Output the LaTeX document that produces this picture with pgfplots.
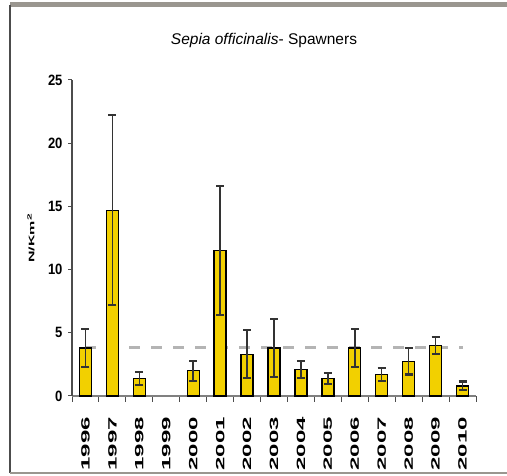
\documentclass[border=0pt]{standalone}
\usepackage{fontspec}
\setmainfont{Liberation Sans}
\usepackage{pgfplots}
\pgfplotsset{compat=1.18}
\usepackage{graphicx}

\definecolor{baryellow}{HTML}{F2D000}
\definecolor{errgray}{HTML}{333333}
\definecolor{meangray}{HTML}{B4B4B4}
\definecolor{framegray}{HTML}{9A968F}

\pgfplotstableread{
x  y     err
0  3.8   1.5
1  14.7  7.5
2  1.4   0.5
4  2.0   0.8
5  11.5  5.1
6  3.3   1.9
7  3.8   2.3
8  2.1   0.7
9  1.4   0.45
10 3.8   1.5
11 1.7   0.5
12 2.75  1.05
13 4.0   0.65
14 0.8   0.35
}\spawners

\begin{document}
\begin{tikzpicture}
\useasboundingbox (0,0) rectangle (507pt,476pt);
% frame
\draw[framegray, line width=5pt] (10pt,471pt) -- (507pt,471pt);
\draw[black!70, line width=1.5pt] (10pt,471pt) -- (10pt,3pt);
\draw[framegray, line width=2.5pt] (10pt,3pt) -- (507pt,3pt);

\node[font=\fontsize{15.5}{15.5}\selectfont] at (264pt,435pt) {\textit{Sepia officinalis}- Spawners};
\node[rotate=90, font=\fontsize{8}{8}\selectfont\bfseries] at (31pt,238pt) {\scalebox{2}[1]{N/Km\textsuperscript{2}}};

\begin{axis}[
    at={(72pt,80pt)}, anchor=south west,
    scale only axis, width=404pt, height=316pt,
    xmin=-0.5, xmax=14.5, ymin=0, ymax=25,
    axis x line=bottom, axis y line=left,
    x axis line style={-, draw=gray, line width=2pt},
    y axis line style={-, draw=black!70, line width=1.2pt},
    ytick={0,5,...,25},
    xtick={0,...,14},
    xticklabels={1996,1997,1998,1999,2000,2001,2002,2003,2004,2005,2006,2007,2008,2009,2010},
    minor xtick={-0.5,0.5,...,14.5},
    tick align=outside,
    major tick length=4pt, minor tick length=6pt,
    major x tick style={draw=none},
    minor x tick style={draw=black!70, line width=1pt},
    major y tick style={draw=black!70, line width=1pt},
    /pgf/number format/assume math mode=true,
    yticklabel style={font=\fontsize{13}{13}\selectfont\bfseries, xshift=-2pt, yscale=1.15},
    xticklabel style={font=\fontsize{12}{12}\selectfont\bfseries, rotate=90, anchor=east, xscale=2},
    xticklabel shift=10pt,
    clip=false,
]
\addplot[meangray, line width=3pt, dash pattern=on 11pt off 11pt] coordinates {(0,3.85) (14,3.85)};
\addplot[ybar, bar width=12pt, bar shift=0pt, fill=baryellow, draw=black, line width=1.3pt,
    error bars/.cd, y dir=both, y explicit,
    error bar style={line width=1.5pt, errgray},
    error mark options={rotate=90, mark size=4pt, line width=2.2pt, errgray}]
    table[x=x, y=y, y error=err] {\spawners};
\end{axis}
\end{tikzpicture}
\end{document}
